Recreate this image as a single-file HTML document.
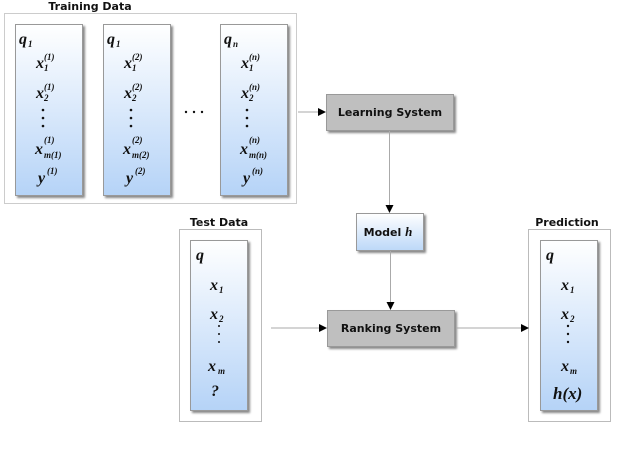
<!DOCTYPE html>
<html><head><style>html,body{margin:0;padding:0;background:#fff;width:640px;height:454px;overflow:hidden}</style></head><body>
<svg width="640" height="454" xmlns="http://www.w3.org/2000/svg" font-family="Liberation Serif, serif">
<defs>
<linearGradient id="b" x1="0" y1="0" x2="0" y2="1"><stop offset="0" stop-color="#ffffff"/><stop offset="1" stop-color="#b5d3f7"/></linearGradient>
<linearGradient id="m" x1="0" y1="0" x2="0" y2="1"><stop offset="0" stop-color="#ffffff"/><stop offset="1" stop-color="#bcd8f8"/></linearGradient>
<marker id="a" markerWidth="8" markerHeight="8" refX="7" refY="4" orient="auto" markerUnits="userSpaceOnUse"><path d="M0,0 L8,4 L0,8 z" fill="#000"/></marker>
</defs>
<g font-family="DejaVu Sans, sans-serif" font-weight="bold" font-size="11" text-anchor="middle" fill="#111">
<text x="90" y="10">Training Data</text>
<text x="219" y="226">Test Data</text>
<text x="567" y="226">Prediction</text>
</g>
<rect x="4.5" y="13.5" width="292" height="190" fill="none" stroke="#ccc"/>
<rect x="179.5" y="229.5" width="82" height="192" fill="none" stroke="#bbb"/>
<rect x="528.5" y="229.5" width="82" height="192" fill="none" stroke="#bbb"/>
<g stroke="#999" fill="url(#b)" style="filter:drop-shadow(2px 2px 1px #888)">
<rect x="15.5" y="24.5" width="67" height="171"/>
<rect x="103.5" y="24.5" width="67" height="171"/>
<rect x="220.5" y="24.5" width="67" height="171"/>
<rect x="190.5" y="240.5" width="57" height="170"/>
<rect x="540.5" y="240.5" width="57" height="170"/>
<rect x="356.5" y="213.5" width="67" height="37" fill="url(#m)"/>
<rect x="326.5" y="94.5" width="127" height="36" fill="#bfbfbf"/>
<rect x="327.5" y="310.5" width="127" height="36" fill="#bfbfbf"/>
</g>
<g font-family="DejaVu Sans, sans-serif" font-weight="bold" font-size="11" text-anchor="middle" fill="#111">
<text x="390" y="116">Learning System</text>
<text x="391" y="332">Ranking System</text>
<text x="388" y="236">Model <tspan font-family="Liberation Serif" font-style="italic" font-size="13">h</tspan></text>
</g>
<g font-style="italic" font-weight="bold" font-size="16" fill="#111">
<text x="19" y="44">q</text><text x="28" y="47" font-size="9">1</text>
<text x="107" y="44">q</text><text x="116" y="47" font-size="9">1</text>
<text x="224" y="44">q</text><text x="233" y="47" font-size="9">n</text>
</g>
<g font-style="italic" font-weight="bold" fill="#111">
<g font-size="16">
<text x="36" y="68">x</text><text x="36" y="98">x</text><text x="35" y="154">x</text><text x="38" y="183">y</text>
<text x="124" y="68">x</text><text x="124" y="98">x</text><text x="123" y="154">x</text><text x="126" y="183">y</text>
<text x="241" y="68">x</text><text x="241" y="98">x</text><text x="240" y="154">x</text><text x="243" y="183">y</text>
</g>
<g font-size="9">
<text x="44" y="71">1</text><text x="44" y="60">(1)</text>
<text x="44" y="101">2</text><text x="44" y="90">(1)</text>
<text x="44" y="158">m(1)</text><text x="44" y="143">(1)</text>
<text x="47" y="174">(1)</text>
<text x="132" y="71">1</text><text x="132" y="60">(2)</text>
<text x="132" y="101">2</text><text x="132" y="90">(2)</text>
<text x="132" y="158">m(2)</text><text x="132" y="143">(2)</text>
<text x="135" y="174">(2)</text>
<text x="249" y="71">1</text><text x="249" y="60">(n)</text>
<text x="249" y="101">2</text><text x="249" y="90">(n)</text>
<text x="249" y="158">m(n)</text><text x="249" y="143">(n)</text>
<text x="252" y="174">(n)</text>
</g>
<g font-size="16">
<text x="196" y="260">q</text>
<text x="210" y="290">x</text><text x="210" y="319">x</text><text x="208" y="371">x</text><text x="211" y="396">?</text>
<text x="546" y="260">q</text>
<text x="561" y="290">x</text><text x="561" y="319">x</text><text x="561" y="371">x</text>
<text x="553" y="399" font-size="17">h(x)</text>
</g>
<g font-size="9">
<text x="219" y="293">1</text><text x="219" y="322">2</text><text x="218" y="374">m</text>
<text x="570" y="293">1</text><text x="570" y="322">2</text><text x="570" y="374">m</text>
</g>
</g>
<g fill="#111">
<circle cx="43" cy="110" r="1.3"/><circle cx="43" cy="118" r="1.3"/><circle cx="43" cy="126" r="1.3"/>
<circle cx="131" cy="110" r="1.3"/><circle cx="131" cy="118" r="1.3"/><circle cx="131" cy="126" r="1.3"/>
<circle cx="247" cy="110" r="1.3"/><circle cx="247" cy="118" r="1.3"/><circle cx="247" cy="126" r="1.3"/>
<circle cx="186" cy="112" r="1.2"/><circle cx="194" cy="112" r="1.2"/><circle cx="202" cy="112" r="1.2"/>
<circle cx="219" cy="326" r="1"/><circle cx="219" cy="334" r="1"/><circle cx="219" cy="342" r="1"/>
<circle cx="568" cy="326" r="1.2"/><circle cx="568" cy="334" r="1.2"/><circle cx="568" cy="342" r="1.2"/>
</g>
<g stroke="#aaa" stroke-width="1" fill="none" marker-end="url(#a)">
<line x1="298" y1="112" x2="325" y2="112"/>
<line x1="389.5" y1="131" x2="389.5" y2="212"/>
<line x1="390.5" y1="251" x2="390.5" y2="309"/>
<line x1="271" y1="328" x2="326" y2="328"/>
<line x1="456" y1="328" x2="528" y2="328"/>
</g>
</svg>
</body></html>
